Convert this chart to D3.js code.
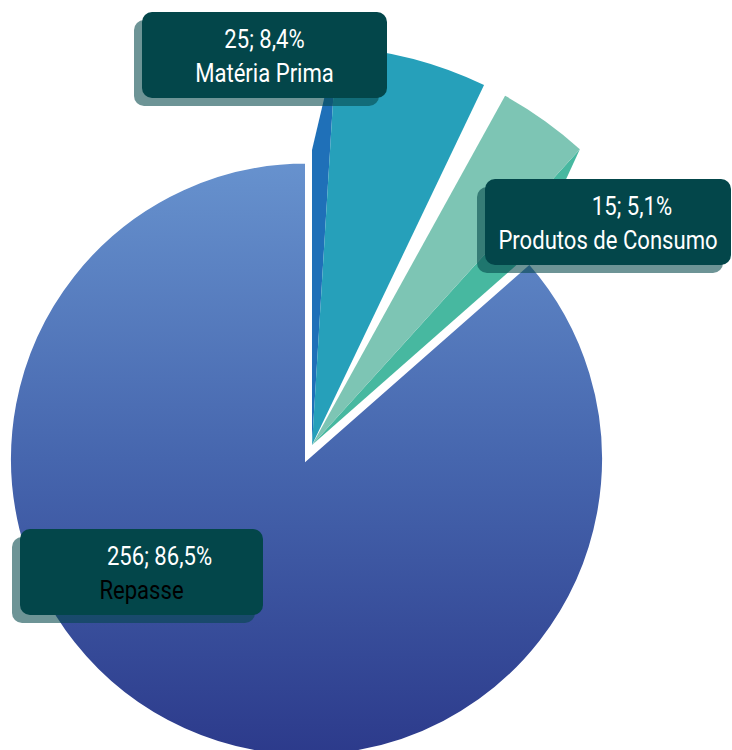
<!DOCTYPE html>
<html>
<head>
<meta charset="utf-8">
<script src="https://cdn.jsdelivr.net/npm/d3@7"></script>
<style>
  html, body { margin: 0; padding: 0; background: #ffffff; }
  svg { display: block; }
  text { font-family: Roboto, "Noto Sans", sans-serif; }
</style>
</head>
<body>
<svg id="chart" width="732" height="750"></svg>
<script>
// Purchases by type (count) — slices in clockwise order from 12 o'clock
const categories = ["Matéria Prima", "Produtos de Consumo", "Repasse"];
const values = [25, 15, 256];

// Slice colours: face, side wall
const faceColors = ["#26A0BA", "#7DC5B4", null];
const wallColors = ["#1F70B8", "#47B8A0", null];
const explodedFlags = [true, true, false];

// Label layout (box position/size and text tweaks per slice)
const labelLayout = [
  { x: 142, y: 12,  w: 245, h: 86, dx1: 0,  nameColor: "#ffffff" },
  { x: 485, y: 179, w: 246, h: 86, dx1: 24, nameColor: "#ffffff" },
  { x: 20,  y: 529, w: 243, h: 86, dx1: 18, nameColor: "#000000" }
];

const svg = d3.select("#chart");
const center = { x: 306.5, y: 459 };    // flat pie centre
const radius = 297;
const apex = { x: 312, y: 445 };        // lifted slices' apex
const baseRadius = 295;                 // lifted slices' footprint radius
const faceRadius = 399;
const tilt = 0.725;                      // angular compression of lifted faces
const liftOffset = 3.5 * Math.PI / 180;  // rotation of first lifted face
const liftGap = 3.4 * Math.PI / 180;     // extra gap between lifted faces

const total = d3.sum(values);
const locale = d3.formatLocale({ decimal: ",", thousands: ".", grouping: [3], currency: ["R$", ""] });
const fmtPct = locale.format(".1%");

const pie = d3.pie().sort(null).value(d => d)(values);

// Vertical gradient for the flat slice (in the slice group's local space)
const defs = svg.append("defs");
const grad = defs.append("linearGradient")
  .attr("id", "flatGrad")
  .attr("gradientUnits", "userSpaceOnUse")
  .attr("x1", 0).attr("y1", -radius)
  .attr("x2", 0).attr("y2", radius);
grad.append("stop").attr("offset", "0%").attr("stop-color", "#6792CE");
grad.append("stop").attr("offset", "50%").attr("stop-color", "#4666AE");
grad.append("stop").attr("offset", "100%").attr("stop-color", "#2C3A8B");

const arcFlat = d3.arc().innerRadius(0).outerRadius(radius);
const arcFace = d3.arc().innerRadius(0).outerRadius(faceRadius);

// Flat slices
const gFlat = svg.append("g").attr("transform", `translate(${center.x},${center.y})`);
pie.forEach((p, i) => {
  if (explodedFlags[i]) return;
  gFlat.append("path")
    .attr("d", arcFlat(p))
    .attr("fill", "url(#flatGrad)")
    .attr("stroke", "#ffffff")
    .attr("stroke-width", 3)
    .attr("stroke-linejoin", "miter");
});

// Lifted slices
const lifted = pie.map((p, i) => ({ p, i })).filter(d => explodedFlags[d.i]);
const dir = a => [Math.sin(a), -Math.cos(a)];
const gLift = svg.append("g").attr("transform", `translate(${apex.x},${apex.y})`);

lifted.forEach((d, k) => {
  const p = d.p;
  const fs = tilt * p.startAngle + liftOffset + k * liftGap;
  const fe = tilt * p.endAngle + liftOffset + k * liftGap;
  const walls = [];
  if (k === 0) walls.push([p.startAngle, fs]);
  if (k === lifted.length - 1) walls.push([p.endAngle, fe]);
  walls.forEach(([baseA, faceA]) => {
    const b = dir(baseA), f = dir(faceA);
    const pts = [[0, 0], [b[0] * baseRadius, b[1] * baseRadius], [f[0] * faceRadius, f[1] * faceRadius]];
    gLift.append("path")
      .attr("d", "M" + pts.map(q => q.join(",")).join("L") + "Z")
      .attr("fill", wallColors[d.i]);
  });
  gLift.append("path")
    .attr("d", arcFace({ startAngle: fs, endAngle: fe }))
    .attr("fill", faceColors[d.i]);
});

// Data labels
const gLab = svg.append("g");
pie.forEach((p, i) => {
  const L = labelLayout[i];
  const cx = L.x + L.w / 2;
  gLab.append("rect")
    .attr("x", L.x - 8).attr("y", L.y + 8)
    .attr("width", L.w).attr("height", L.h)
    .attr("rx", 10).attr("ry", 10)
    .attr("fill", "rgba(3,70,74,0.58)");
  gLab.append("rect")
    .attr("x", L.x).attr("y", L.y)
    .attr("width", L.w).attr("height", L.h)
    .attr("rx", 10).attr("ry", 10)
    .attr("fill", "#03464A");
  const line1 = `${values[i]}; ${fmtPct(values[i] / total)}`;
  gLab.append("text")
    .attr("transform", `translate(${cx + L.dx1},${L.y + 36}) scale(0.85,1)`)
    .attr("text-anchor", "middle")
    .attr("font-size", 26)
    .attr("fill", "#ffffff")
    .text(line1);
  gLab.append("text")
    .attr("transform", `translate(${cx},${L.y + 70}) scale(0.85,1)`)
    .attr("text-anchor", "middle")
    .attr("font-size", 26)
    .attr("fill", L.nameColor)
    .text(categories[i]);
});
</script>
</body>
</html>
